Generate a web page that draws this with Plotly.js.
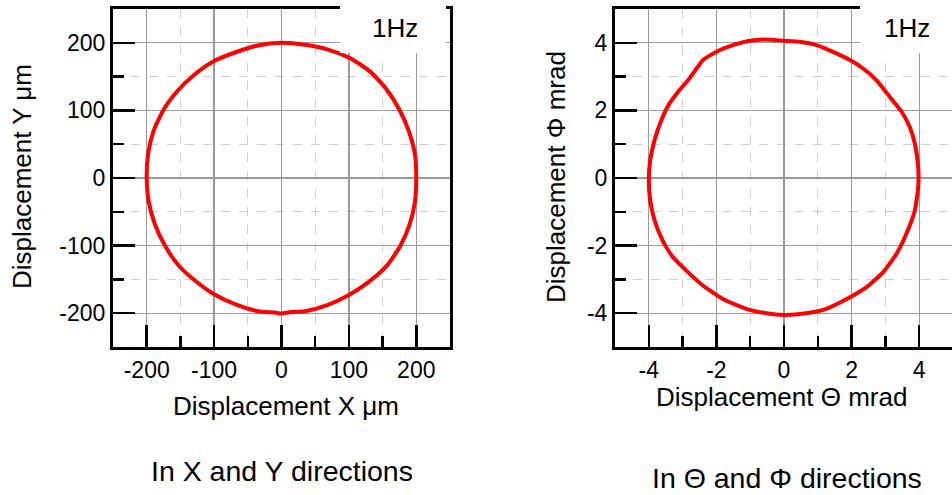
<!DOCTYPE html>
<html>
<head>
<meta charset="utf-8">
<script src="https://cdn.plot.ly/plotly-3.0.1.min.js"></script>
<style>html,body{margin:0;padding:0;background:#fff;}#chart{width:952px;height:495px;}</style>
</head>
<body>
<div id="chart"></div>
<script>
// Left panel: displacement in X and Y (µm), 1 Hz
const xyX = [200, 198, 189, 175, 156, 132, 102, 69, 35, 0, -35, -68, -100, -129, -154, -175, -190, -198, -200, -197, -188, -173, -153, -128, -100, -68, -35, -10, 0, 12, 35, 68, 100, 129, 156, 176, 190, 198, 200];
const xyY = [0, 35, 69, 101, 131, 157, 177, 190, 197, 200, 196, 186, 173, 153, 129, 101, 69, 35, 0, -35, -68, -100, -129, -152, -172, -187, -197, -199, -200.5, -198.5, -197, -188, -173, -154, -130, -101, -69, -35, 0];

// Right panel: displacement in Theta and Phi (mrad), 1 Hz
const tpTheta = [0, 0.46, 0.96, 1.45, 1.95, 2.34, 2.74, 3.13, 3.48, 3.72, 3.87, 3.97, 3.97, 3.87, 3.62, 3.33, 2.93, 2.44, 1.95, 1.25, 0.66, 0, -0.52, -1.12, -1.81, -2.40, -2.89, -3.29, -3.59, -3.83, -3.96, -4.0, -3.96, -3.83, -3.63, -3.39, -3.09, -2.80, -2.55, -2.40, -2.10, -1.91, -1.51, -1.02, -0.52, 0];
const tpPhi = [4.06, 4.03, 3.93, 3.73, 3.49, 3.24, 2.89, 2.40, 1.96, 1.51, 1.02, 0.33, -0.27, -0.96, -1.65, -2.24, -2.79, -3.23, -3.53, -3.87, -4.0, -4.05, -4.0, -3.87, -3.58, -3.18, -2.74, -2.34, -1.85, -1.25, -0.66, -0.07, 0.52, 1.12, 1.71, 2.20, 2.60, 2.94, 3.29, 3.49, 3.68, 3.78, 3.93, 4.06, 4.10, 4.06];

const ticksLeft = [-200, -100, 0, 100, 200];
const tickTextLeft = ['-200', '-100', '0', '100', '200'];
const ticksRight = [-4, -2, 0, 2, 4];
const tickTextRight = ['-4', '-2', '0', '2', '4'];

const FONT = 'Liberation Sans, Arial, Helvetica, sans-serif';
const W = 952, H = 495;
const px = v => v / W;
const py = v => 1 - v / H;

function axis(domain, range, ticks, labels, minorDtick) {
  return {
    domain: domain, range: range,
    tickmode: 'array', tickvals: ticks, ticktext: labels,
    ticks: 'inside', ticklen: 22, tickwidth: 2.5, tickcolor: '#000',
    showline: true, linewidth: 3, linecolor: '#000', mirror: true,
    showgrid: true, gridcolor: '#9a9a9a', gridwidth: 1.3,
    zeroline: false,
    tickfont: {family: FONT, size: 23, color: '#000'},
    minor: {dtick: minorDtick, tick0: 0, ticks: 'inside', ticklen: 11, tickwidth: 2.5, tickcolor: '#000',
            showgrid: true, gridcolor: '#cfcfcf', griddash: 'dash', gridwidth: 1},
    fixedrange: true
  };
}

const traces = [
  {x: xyX, y: xyY, xaxis: 'x', yaxis: 'y', mode: 'lines', type: 'scatter',
   line: {color: '#ff0000', width: 4, shape: 'spline', smoothing: 0.6}, hoverinfo: 'skip'},
  {x: tpTheta, y: tpPhi, xaxis: 'x2', yaxis: 'y2', mode: 'lines', type: 'scatter',
   line: {color: '#ff0000', width: 4, shape: 'spline', smoothing: 0.5}, hoverinfo: 'skip'}
];

const yDom = [1 - 347 / H, 1 - 9 / H];

function ann(text, x, y, size, angle) {
  return {text: text, xref: 'paper', yref: 'paper', x: px(x), y: py(y), showarrow: false,
          xanchor: 'center', yanchor: 'middle', textangle: angle || 0,
          font: {family: FONT, size: size, color: '#000'}};
}

const layout = {
  width: W, height: H,
  margin: {l: 0, r: 0, t: 0, b: 0},
  paper_bgcolor: '#fff', plot_bgcolor: '#fff',
  showlegend: false,
  font: {family: FONT, color: '#000'},
  xaxis: axis([px(113), px(450)], [-250, 250], ticksLeft, tickTextLeft, 50),
  yaxis: Object.assign(axis(yDom, [-250, 250], ticksLeft, tickTextLeft, 50), {anchor: 'x'}),
  xaxis2: Object.assign(axis([px(615), 1], [-5, 4.97], ticksRight, tickTextRight, 1), {anchor: 'y2'}),
  yaxis2: Object.assign(axis(yDom, [-5, 5], ticksRight, tickTextRight, 1), {anchor: 'x2'}),
  shapes: [
    {type: 'rect', xref: 'paper', yref: 'paper', x0: px(340), x1: px(446), y0: py(53), y1: 1,
     fillcolor: '#fff', line: {width: 0}, layer: 'above'},
    {type: 'rect', xref: 'paper', yref: 'paper', x0: px(860), x1: 1, y0: py(53), y1: 1,
     fillcolor: '#fff', line: {width: 0}, layer: 'above'}
  ],
  annotations: [
    ann('1Hz', 395, 28, 26),
    ann('1Hz', 907, 28, 26),
    ann('Displacement X \u03bcm', 286, 406, 26),
    ann('Displacement Y \u03bcm', 22, 177, 26, -90),
    ann('Displacement \u0398 mrad', 781, 397, 26),
    ann('Displacement \u03a6 mrad', 556, 177, 26, -90),
    ann('In X and Y directions', 282, 471, 28.5),
    ann('In \u0398 and \u03a6 directions', 787, 478, 28.5)
  ]
};

Plotly.newPlot('chart', traces, layout, {displayModeBar: false, staticPlot: true});
</script>
</body>
</html>
